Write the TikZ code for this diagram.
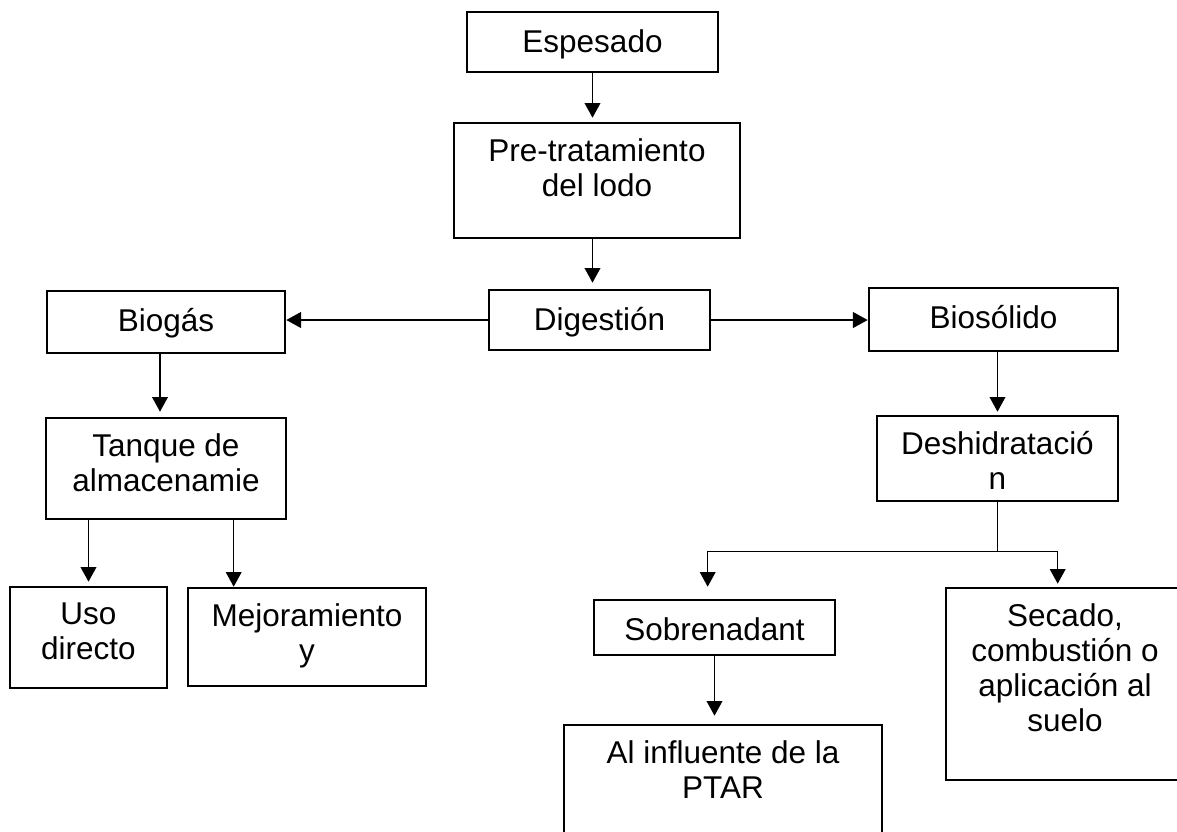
\documentclass[tikz,border=0pt]{standalone}
\usepackage{fontspec}
\setmainfont{Liberation Sans}
\usetikzlibrary{arrows.meta}

\newlength{\px}
\setlength{\px}{0.381pt}

\begin{document}
\begin{tikzpicture}[x=0.381pt, y=-0.381pt,
    box/.style={draw, line width=1pt, inner sep=0pt},
    txt/.style={anchor=north, yshift=-6.2pt, align=center, inner sep=0pt,
        font=\fontsize{12}{13.4}\selectfont, execute at begin node=\strut},
    arr/.style={-{Triangle[width=6pt,length=5.6pt]}, line width=0.55pt}]
    \path[use as bounding box] (0,0) rectangle (1177,831);
    \clip (0,0) rectangle (1177,831);

    % Main line
    \node[box, minimum width=251\px, minimum height=60\px] (espesado) at (592.5,42) {};
    \node[txt] (espesado-t) at (espesado.north) {Espesado};
    \node[box, minimum width=286\px, minimum height=115\px] (pretrat) at (597,180.5) {};
    \node[txt] (pretrat-t) at (pretrat.north) {Pre-tratamiento\\del lodo};
    \node[box, minimum width=221\px, minimum height=60\px] (digestion) at (599.5,320) {};
    \node[txt] (digestion-t) at (digestion.north) {Digestión};

    % Biogas side
    \node[box, minimum width=238\px, minimum height=62\px] (biogas) at (166,322) {};
    \node[txt] (biogas-t) at (biogas.north) {Biogás};
    \node[box, minimum width=240\px, minimum height=101\px] (tanque) at (166,468.5) {};
    \node[txt] (tanque-t) at (tanque.north) {Tanque de\\almacenamie};
    \node[box, minimum width=157\px, minimum height=101\px] (uso) at (88.5,637.5) {};
    \node[txt] (uso-t) at (uso.north) {Uso\\directo};
    \node[box, minimum width=238\px, minimum height=98\px] (mejora) at (307,637) {};
    \node[txt] (mejora-t) at (mejora.north) {Mejoramiento\\y};

    % Biosolid side
    \node[box, minimum width=249\px, minimum height=63\px] (biosolido) at (993.5,319.5) {};
    \node[txt] (biosolido-t) at (biosolido.north) {Biosólido};
    \node[box, minimum width=241\px, minimum height=85\px] (deshid) at (997.5,458.5) {};
    \node[txt] (deshid-t) at (deshid.north) {Deshidratació\\n};
    \node[box, minimum width=241\px, minimum height=55\px] (sobren) at (714.5,627.5) {};
    \node[txt] (sobren-t) at (sobren.north) {Sobrenadant};
    \node[box, minimum width=318\px, minimum height=150\px] (influente) at (723,800) {};
    \node[txt] (influente-t) at (influente.north) {Al influente de la\\PTAR};
    \node[box, minimum width=238\px, minimum height=192\px] (secado) at (1065,684) {};
    \node[txt] (secado-t) at (secado.north) {Secado,\\combustión o\\aplicación al\\suelo};

    % Arrows
    \draw[arr, shorten >=4\px] (espesado.south) -- (espesado.south |- pretrat.north);
    \draw[arr, shorten >=6\px] (pretrat.south -| espesado.south) -- (espesado.south |- digestion.north);
    \draw[arr] (digestion.west) -- (digestion.west -| biogas.east);
    \draw[arr] (digestion.east) -- (digestion.east -| biosolido.west);
    \draw[arr, shorten >=5\px] ([xshift=-6\px]biogas.south) -- ([xshift=-6\px]biogas.south |- tanque.north);
    \draw[arr, shorten >=4\px] (uso.north |- tanque.south) -- (uso.north);
    \draw[arr] ([xshift=47\px]mejora.north west |- tanque.south) -- ([xshift=47\px]mejora.north west);
    \draw[arr, shorten >=3\px] (deshid.north |- biosolido.south) -- (deshid.north);
    \draw[line width=0.55pt] (deshid.south) -- ([yshift=-49\px]deshid.south) coordinate (split);
    \draw[arr] (split) -| ([xshift=115\px, yshift=12\px]sobren.north west);
    \draw[arr] (split) -| ([xshift=113\px, yshift=3\px]secado.north west);
    \draw[arr, shorten >=8\px] (sobren.south) -- (sobren.south |- influente.north);
\end{tikzpicture}
\end{document}
